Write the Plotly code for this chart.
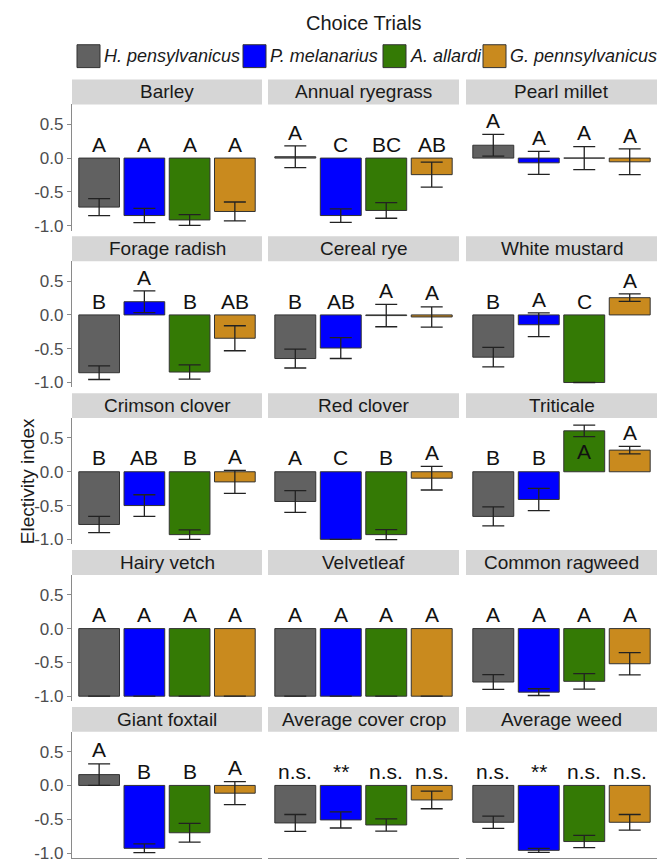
import plotly.graph_objects as go

# ---- data -------------------------------------------------------------
panels = ["Barley", "Annual ryegrass", "Pearl millet",
          "Forage radish", "Cereal rye", "White mustard",
          "Crimson clover", "Red clover", "Triticale",
          "Hairy vetch", "Velvetleaf", "Common ragweed",
          "Giant foxtail", "Average cover crop", "Average weed"]

species = ["H. pensylvanicus", "P. melanarius", "A. allardi", "G. pennsylvanicus"]

# mean electivity index per panel, one list per species
hpen_mean = [-0.725, 0.02, 0.19, -0.855, -0.645, -0.625, -0.78, -0.44, -0.66,
             -1.0, -1.0, -0.79, 0.16, -0.555, -0.545]
pmel_mean = [-0.85, -0.85, -0.07, 0.195, -0.49, -0.145, -0.50, -1.0, -0.41,
             -1.0, -1.0, -0.94, -0.93, -0.51, -0.96]
aall_mean = [-0.915, -0.775, 0.0, -0.845, -0.01, -1.0, -0.93, -0.93, 0.605,
             -1.0, -1.0, -0.78, -0.70, -0.585, -0.83]
gpen_mean = [-0.79, -0.245, -0.055, -0.345, -0.03, 0.255, -0.15, -0.095, 0.32,
             -1.0, -1.0, -0.52, -0.115, -0.215, -0.545]

# standard errors
hpen_se = [0.125, 0.16, 0.16, 0.10, 0.14, 0.145, 0.12, 0.16, 0.14,
           0.0, 0.0, 0.11, 0.16, 0.125, 0.09]
pmel_se = [0.105, 0.10, 0.17, 0.16, 0.155, 0.175, 0.16, 0.0, 0.165,
           0.0, 0.0, 0.05, 0.065, 0.12, 0.03]
aall_se = [0.08, 0.115, 0.17, 0.105, 0.165, 0.0, 0.07, 0.075, 0.085,
           0.0, 0.0, 0.115, 0.14, 0.09, 0.09]
gpen_se = [0.14, 0.185, 0.19, 0.185, 0.15, 0.055, 0.17, 0.175, 0.055,
           0.0, 0.0, 0.165, 0.17, 0.13, 0.115]

# significance letters
hpen_lab = ["A", "A", "A", "B", "B", "B", "B", "A", "B", "A", "A", "A", "A", "n.s.", "n.s."]
pmel_lab = ["A", "C", "A", "A", "AB", "A", "AB", "C", "B", "A", "A", "A", "B", "**", "**"]
aall_lab = ["A", "BC", "A", "B", "A", "C", "B", "B", "A", "A", "A", "A", "B", "n.s.", "n.s."]
gpen_lab = ["A", "AB", "A", "AB", "A", "A", "A", "A", "A", "A", "A", "A", "A", "n.s.", "n.s."]

y_tick_vals = [0.5, 0.0, -0.5, -1.0]
y_tick_text = ["0.5", "0.0", "-0.5", "-1.0"]

# ---- style ------------------------------------------------------------
means = [hpen_mean, pmel_mean, aall_mean, gpen_mean]
ses = [hpen_se, pmel_se, aall_se, gpen_se]
labels = [hpen_lab, pmel_lab, aall_lab, gpen_lab]
colors = ["#616161", "#0000FF", "#347A05", "#C98A1E"]

W, H = 670, 864
FONT = "Liberation Sans, Arial, sans-serif"
INK = "#1a1a1a"
AXIS_GRAY = "#8a8a8a"
STRIP_FILL = "#D6D6D6"

col_px = [(72, 262), (268, 459), (466, 657)]
row_zero0, row_pitch = 159, 157.75
above_zero, below_zero = 54, 73          # plot area extent around y=0 (px)
strip_h = 25
px_per_unit = 68.0
y_range = [-below_zero / px_per_unit, above_zero / px_per_unit]
x_range = [0.4, 4.6]


def fx(px):
    return px / W


def fy(px):
    return 1 - px / H


fig = go.Figure()
layout = dict(
    width=W, height=H,
    margin=dict(l=0, r=0, t=0, b=0),
    paper_bgcolor="white", plot_bgcolor="white",
    showlegend=False,
    font=dict(family=FONT, color=INK),
    shapes=[], annotations=[],
)

label_font = dict(family=FONT, size=21, color="#111111")

for k, name in enumerate(panels):
    r, c = divmod(k, 3)
    n = k + 1
    xa = "xaxis" if n == 1 else f"xaxis{n}"
    ya = "yaxis" if n == 1 else f"yaxis{n}"
    xr = "x" if n == 1 else f"x{n}"
    yr = "y" if n == 1 else f"y{n}"

    z = row_zero0 + row_pitch * r
    top_px, bot_px = z - above_zero, z + below_zero
    x0, x1 = col_px[c]

    layout[xa] = dict(domain=[fx(x0), fx(x1)], range=x_range, anchor=yr,
                      showgrid=False, zeroline=False, showticklabels=False,
                      ticks="", showline=(r == 4), linecolor=AXIS_GRAY,
                      linewidth=1.2, fixedrange=True)
    layout[ya] = dict(domain=[fy(bot_px), fy(top_px)], range=y_range, anchor=xr,
                      showgrid=False, zeroline=False,
                      showline=(c == 0), linecolor=AXIS_GRAY, linewidth=1.2,
                      ticks="outside" if c == 0 else "", ticklen=4,
                      tickcolor=AXIS_GRAY, tickwidth=1.2,
                      tickvals=y_tick_vals, ticktext=y_tick_text,
                      showticklabels=(c == 0),
                      tickfont=dict(family=FONT, size=17, color="#4D4D4D"),
                      fixedrange=True)

    vals = [m[k] for m in means]
    errs = [s[k] for s in ses]
    xs = [1, 2, 3, 4]
    fig.add_trace(go.Bar(
        x=xs, y=vals, width=0.9, xaxis=xr, yaxis=yr,
        marker=dict(color=colors, line=dict(color="#333333", width=1)),
        error_y=dict(type="data", array=errs, visible=True,
                     color="#222222", thickness=1.3, width=11),
        hoverinfo="skip",
    ))

    # strip header
    layout["shapes"].append(dict(type="rect", xref="paper", yref="paper",
                                 x0=fx(x0), x1=fx(x1),
                                 y0=fy(top_px), y1=fy(top_px - strip_h),
                                 fillcolor=STRIP_FILL, line=dict(width=0),
                                 layer="below"))
    layout["annotations"].append(dict(text=name, xref="paper", yref="paper",
                                      x=fx((x0 + x1) / 2),
                                      y=fy(top_px - strip_h / 2),
                                      showarrow=False, xanchor="center",
                                      yanchor="middle",
                                      font=dict(family=FONT, size=19, color=INK)))

    # significance letters above each bar (inside the bar if no room above)
    label_room = 0.30
    for i in range(4):
        top = max(0.0, vals[i] + errs[i])
        if top + label_room > y_range[1]:
            ly, anchor = vals[i] / 2, "middle"
        else:
            ly, anchor = top + 0.005, "bottom"
        layout["annotations"].append(dict(text=labels[i][k], x=xs[i], y=ly,
                                          xref=xr, yref=yr, showarrow=False,
                                          xanchor="center", yanchor=anchor,
                                          font=label_font))

# title
layout["annotations"].append(dict(text="Choice Trials", xref="paper", yref="paper",
                                  x=fx(364), y=fy(23), showarrow=False,
                                  xanchor="center", yanchor="middle",
                                  font=dict(family=FONT, size=20, color=INK)))

# y-axis title
layout["annotations"].append(dict(text="Electivity index", xref="paper", yref="paper",
                                  x=fx(27), y=fy(484), showarrow=False, textangle=-90,
                                  xanchor="center", yanchor="middle",
                                  font=dict(family=FONT, size=19, color=INK)))

# legend: filled keys with italic species names
key_left = [77, 243, 383, 483]
key_size = 23
key_top = 45
for i, sp in enumerate(species):
    kx = key_left[i]
    layout["shapes"].append(dict(type="rect", xref="paper", yref="paper",
                                 x0=fx(kx), x1=fx(kx + key_size),
                                 y0=fy(key_top + key_size), y1=fy(key_top),
                                 fillcolor=colors[i],
                                 line=dict(color="#333333", width=1)))
    layout["annotations"].append(dict(text=f"<i>{sp}</i>", xref="paper", yref="paper",
                                      x=fx(kx + key_size + 2),
                                      y=fy(key_top + key_size / 2),
                                      showarrow=False, xanchor="left",
                                      yanchor="middle",
                                      font=dict(family=FONT, size=18, color=INK)))

fig.update_layout(**layout)
fig.write_html("out.html")
